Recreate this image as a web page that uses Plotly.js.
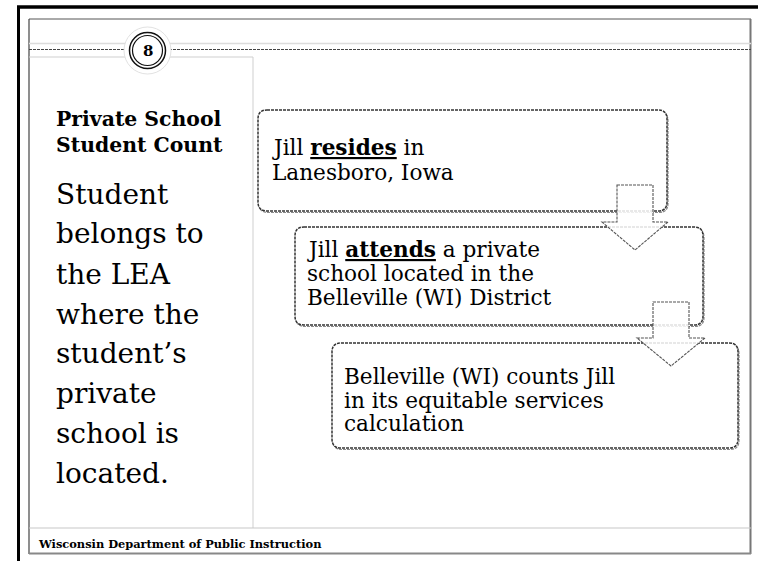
<!DOCTYPE html>
<html>
<head>
<meta charset="utf-8">
<script src="https://cdn.plot.ly/plotly-3.0.1.min.js"></script>
<style>html,body{margin:0;padding:0;background:#fff;}#chart{width:758px;height:561px;}</style>
</head>
<body>
<div id="chart"></div>
<script>
// ---- content ----
const slideNumber = "8";
const headingLines = ["Private School", "Student Count"];
const sideLines = ["Student", "belongs to", "the LEA", "where the", "student\u2019s", "private", "school is", "located."];
const box1Lines = ["Jill <b><u>resides</u></b> in", "Lanesboro, Iowa"];
const box2Lines = ["Jill <b><u>attends</u></b> a private", "school located in the", "Belleville (WI) District"];
const box3Lines = ["Belleville (WI) counts Jill", "in its equitable services", "calculation"];
const footerText = "Wisconsin Department of Public Instruction";

// ---- layout helpers ----
const FONT = "DejaVu Serif, Liberation Serif, serif";
const shapes = [];
const annotations = [];

function line(x0, y0, x1, y1, color, width, dash) {
  shapes.push({type: "line", xref: "x", yref: "y", x0, y0, x1, y1,
    line: {color, width, dash: dash || "solid"}, layer: "above"});
}
function rrect(x0, y0, x1, y1, r) {
  return `M ${x0 + r},${y0} H ${x1 - r} Q ${x1},${y0} ${x1},${y0 + r} V ${y1 - r} Q ${x1},${y1} ${x1 - r},${y1} H ${x0 + r} Q ${x0},${y1} ${x0},${y1 - r} V ${y0 + r} Q ${x0},${y0} ${x0 + r},${y0} Z`;
}
function box(x0, y0, x1, y1) {
  // soft shadow under the bottom / right edge
  shapes.push({type: "path", xref: "x", yref: "y", path: rrect(x0 + 1, y0 + 1.5, x1 + 1, y1 + 1.5, 9),
    fillcolor: "rgba(0,0,0,0)", line: {color: "#8a8a8a", width: 1.2, dash: "3px,1px"}, layer: "above"});
  shapes.push({type: "path", xref: "x", yref: "y", path: rrect(x0, y0, x1, y1, 9),
    fillcolor: "#ffffff", line: {color: "#333", width: 1.5, dash: "3px,1px"}, layer: "above"});
}
function arrow(sx0, sx1, sy0, sy1, hx0, hx1, tipY) {
  const cx = (hx0 + hx1) / 2;
  const p = `M ${sx0},${sy0} L ${sx1},${sy0} L ${sx1},${sy1} L ${hx1},${sy1} L ${cx},${tipY} L ${hx0},${sy1} L ${sx0},${sy1} Z`;
  shapes.push({type: "path", xref: "x", yref: "y", path: p,
    fillcolor: "rgba(255,255,255,0.85)", line: {color: "#555", width: 1.1, dash: "3px,1px"}, layer: "above"});
}
function text(t, x, baseline, size, bold) {
  annotations.push({xref: "x", yref: "y", x, y: baseline - 0.35 * size, xanchor: "left", yanchor: "middle",
    text: bold ? "<b>" + t + "</b>" : t, showarrow: false, borderpad: 0,
    font: {family: FONT, size, color: "#000"}});
}

// ---- frames ----
line(17, 7, 758, 7, "#000", 3.5);
line(18.5, 7, 18.5, 561, "#000", 3);
// inner frame
line(29, 19, 751, 19, "#555", 1);
line(29, 19, 29, 554, "#444", 1.2);
line(750.5, 19, 750.5, 554, "#777", 2);
line(29, 553.5, 751, 553.5, "#888", 2);
// header lines
line(29, 43.5, 751, 43.5, "#dcdcdc", 1.5);
line(29, 49.5, 751, 49.5, "#444", 1, "3px,1px");
// left panel & footer rules
line(29, 57, 253, 57, "#cfcfcf", 1);
line(253, 57, 253, 528, "#cfcfcf", 1);
line(29, 528, 751, 528, "#c8c8c8", 1.2);

// slide number circle
shapes.push({type: "circle", xref: "x", yref: "y", x0: 124, y0: 27, x1: 171, y1: 74,
  fillcolor: "#fff", line: {color: "#e2e2e2", width: 1}, layer: "above"});
shapes.push({type: "circle", xref: "x", yref: "y", x0: 129.5, y0: 32.5, x1: 165.5, y1: 68.5,
  fillcolor: "#fff", line: {color: "#111", width: 1.5}, layer: "above"});
shapes.push({type: "circle", xref: "x", yref: "y", x0: 132.5, y0: 35.5, x1: 162.5, y1: 65.5,
  fillcolor: "rgba(0,0,0,0)", line: {color: "#111", width: 1.2}, layer: "above"});
annotations.push({xref: "x", yref: "y", x: 147.5, y: 50.5, text: "<b>" + slideNumber + "</b>",
  showarrow: false, xanchor: "center", yanchor: "middle", font: {family: FONT, size: 15, color: "#000"}});

// flow boxes and arrows
box(258, 110, 667, 211);
box(295, 227, 703, 325);
box(332, 343, 738, 448);
arrow(617, 653, 185, 222, 602, 668, 250);
arrow(653, 689, 302, 338, 637, 705, 366);

// texts
headingLines.forEach((t, i) => text(t, 55, [126, 152][i], 20.4, true));
const sideBase = [204, 243, 284, 324, 363, 403, 443, 483];
sideLines.forEach((t, i) => text(t, 55, sideBase[i], 28, false));
box1Lines.forEach((t, i) => text(t, 271, [155, 180][i], 21.6, false));
box2Lines.forEach((t, i) => text(t, 306, [257, 281, 305][i], 21.6, false));
box3Lines.forEach((t, i) => text(t, 343, [384, 408, 431][i], 21.6, false));
text(footerText, 37, 548, 11.4, true);

const data = [{type: "scatter", x: [], y: [], mode: "markers", hoverinfo: "skip", showlegend: false}];
const layout = {
  width: 758, height: 561,
  margin: {l: 0, r: 0, t: 0, b: 0, pad: 0},
  paper_bgcolor: "#fff", plot_bgcolor: "#fff",
  showlegend: false,
  xaxis: {range: [0, 758], visible: false, fixedrange: true},
  yaxis: {range: [561, 0], visible: false, fixedrange: true},
  shapes, annotations
};
Plotly.newPlot("chart", data, layout, {staticPlot: true, displayModeBar: false});
</script>
</body>
</html>
